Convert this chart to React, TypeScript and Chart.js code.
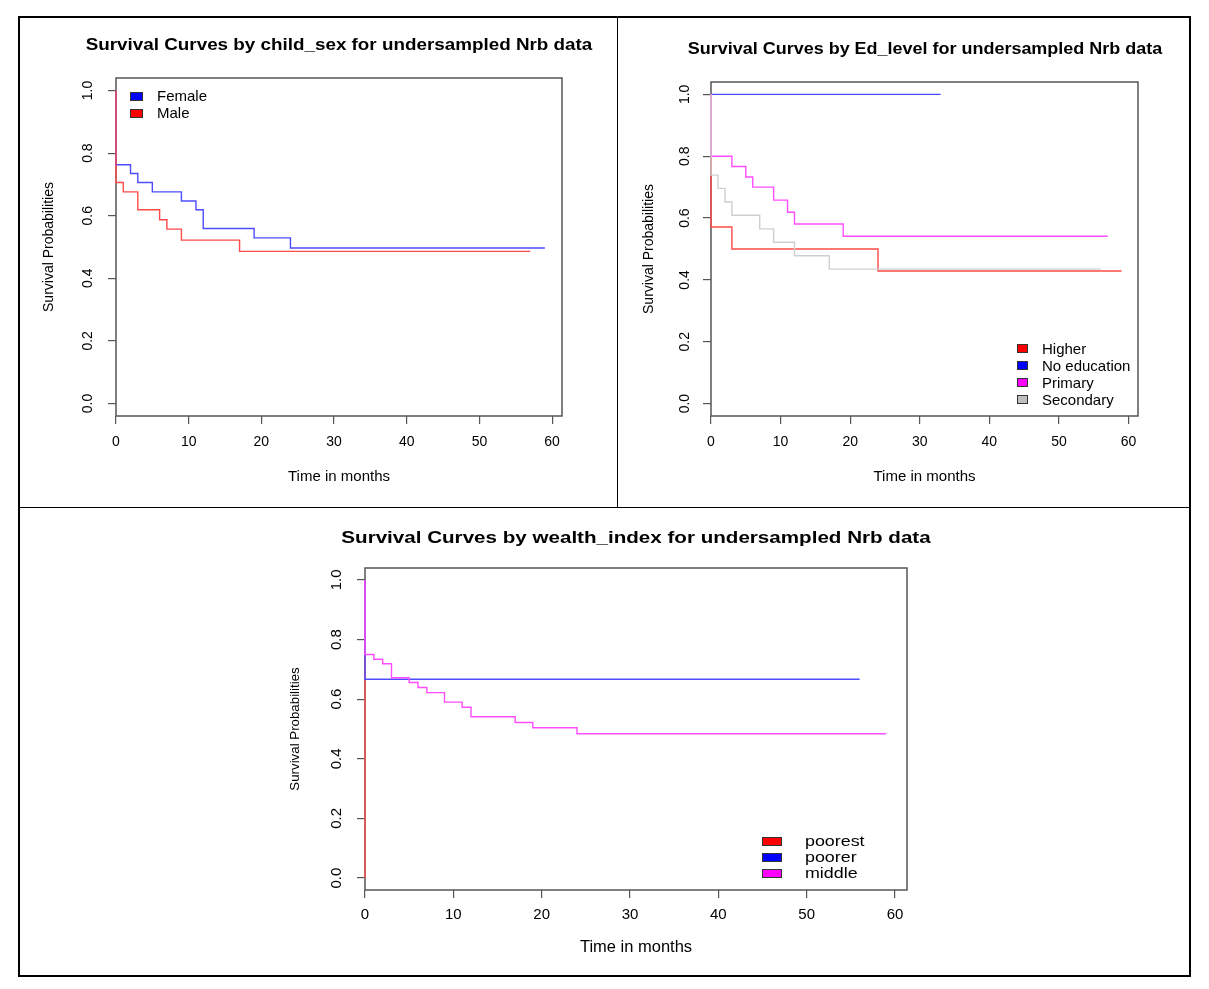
import React, { useEffect, useRef } from "react";
import { Chart, registerables } from "chart.js";

Chart.register(...registerables);

const FONT = "'Liberation Sans', Arial, Helvetica, sans-serif";

// ---------- Panel 1: child_sex ----------
const femaleTime = [0, 0, 2, 3, 5, 9, 11, 12, 19, 24, 59];
const femaleSurv = [1, 0.763, 0.735, 0.706, 0.676, 0.647, 0.619, 0.559, 0.529, 0.497, 0.497];
const maleTime = [0, 0, 1, 3, 6, 7, 9, 17, 57];
const maleSurv = [1, 0.706, 0.676, 0.619, 0.587, 0.557, 0.522, 0.486, 0.486];

// ---------- Panel 2: Ed_level ----------
const higherTime = [0, 0, 3, 24, 59];
const higherSurv = [1, 0.571, 0.5, 0.429, 0.429];
const noEduTime = [0, 33];
const noEduSurv = [1, 1];
const primaryTime = [0, 0, 3, 5, 6, 9, 11, 12, 19, 57];
const primarySurv = [1, 0.8, 0.767, 0.733, 0.7, 0.658, 0.619, 0.581, 0.541, 0.541];
const secondaryTime = [0, 0, 1, 2, 3, 7, 9, 12, 17, 56];
const secondarySurv = [1, 0.739, 0.696, 0.652, 0.609, 0.565, 0.522, 0.478, 0.435, 0.435];

// ---------- Panel 3: wealth_index ----------
const poorestTime = [0, 0];
const poorestSurv = [1, 0];
const poorerTime = [0, 0, 56];
const poorerSurv = [1, 0.667, 0.667];
const middleTime = [0, 0, 1, 2, 3, 5, 6, 7, 9, 11, 12, 17, 19, 24, 59];
const middleSurv = [1, 0.75, 0.734, 0.719, 0.672, 0.656, 0.639, 0.622, 0.59, 0.573, 0.541, 0.522, 0.504, 0.484, 0.484];

// ---------- Axes ----------
const xTicks = [0, 10, 20, 30, 40, 50, 60];
const xTickLabels = ["0", "10", "20", "30", "40", "50", "60"];
const yTicks = [0, 0.2, 0.4, 0.6, 0.8, 1.0];
const yTickLabels = ["0.0", "0.2", "0.4", "0.6", "0.8", "1.0"];
const xAxisMin = 0;
const xAxisMax = 61.36; // last time 59, extended 4% (R survfit style)
const yAxisMin = -0.04;
const yAxisMax = 1.04;

const titles = [
  "Survival Curves by child_sex for undersampled Nrb data",
  "Survival Curves by Ed_level for undersampled Nrb data",
  "Survival Curves by wealth_index for undersampled Nrb data",
];
const xAxisTitle = "Time in months";
const yAxisTitle = "Survival Probabilities";

type Series = { label: string; times: number[]; surv: number[]; line: string; fill: string };

type LegendSpec = { boxX: number; boxW: number; boxH: number; textX: number; rows: number[]; size: number; stretch: number };

type PanelSpec = {
  title: string;
  cx: number; cy: number; cw: number; ch: number;
  aL: number; aT: number; aR: number; aB: number;
  tY: number; yTX: number; xTY: number; yLX: number; xLY: number;
  titleSize: number; titleStretch: number;
  tickSize: number; xTitleSize: number; yTitleSize: number;
  series: Series[];
  legend: LegendSpec;
};

const RED_L = "#ff4a4a", BLUE_L = "#4d4dff", MAG_L = "#ff4dff", GRAY_L = "#cfcfcf";

const panels: PanelSpec[] = [
  {
    title: titles[0],
    cx: 20, cy: 18, cw: 597, ch: 489,
    aL: 116, aT: 78, aR: 562, aB: 416,
    tY: 44.5, yTX: 49.5, xTY: 476.5, yLX: 88, xLY: 442,
    titleSize: 16, titleStretch: 1.177,
    tickSize: 14, xTitleSize: 15, yTitleSize: 14,
    series: [
      { label: "Female", times: femaleTime, surv: femaleSurv, line: BLUE_L, fill: "#0000ff" },
      { label: "Male", times: maleTime, surv: maleSurv, line: RED_L, fill: "#ff0000" },
    ],
    legend: { boxX: 130, boxW: 13, boxH: 9, textX: 157, rows: [96, 113.3], size: 15, stretch: 1 },
  },
  {
    title: titles[1],
    cx: 618, cy: 18, cw: 572, ch: 489,
    aL: 711, aT: 82, aR: 1138, aB: 416,
    tY: 48.5, yTX: 649, xTY: 476.5, yLX: 685, xLY: 442,
    titleSize: 16, titleStretch: 1.123,
    tickSize: 14, xTitleSize: 15, yTitleSize: 14,
    series: [
      { label: "Higher", times: higherTime, surv: higherSurv, line: RED_L, fill: "#ff0000" },
      { label: "No education", times: noEduTime, surv: noEduSurv, line: BLUE_L, fill: "#0000ff" },
      { label: "Primary", times: primaryTime, surv: primarySurv, line: MAG_L, fill: "#ff00ff" },
      { label: "Secondary", times: secondaryTime, surv: secondarySurv, line: GRAY_L, fill: "#bebebe" },
    ],
    legend: { boxX: 1017, boxW: 11, boxH: 9, textX: 1042, rows: [348.5, 365.5, 382.5, 399.5], size: 15, stretch: 1 },
  },
  {
    title: titles[2],
    cx: 20, cy: 508, cw: 1170, ch: 468,
    aL: 365, aT: 568, aR: 907, aB: 890,
    tY: 536.5, yTX: 295, xTY: 947, yLX: 337, xLY: 915,
    titleSize: 16.5, titleStretch: 1.248,
    tickSize: 15, xTitleSize: 16.5, yTitleSize: 13.3,
    series: [
      { label: "poorest", times: poorestTime, surv: poorestSurv, line: RED_L, fill: "#ff0000" },
      { label: "poorer", times: poorerTime, surv: poorerSurv, line: BLUE_L, fill: "#0000ff" },
      { label: "middle", times: middleTime, surv: middleSurv, line: MAG_L, fill: "#ff00ff" },
    ],
    legend: { boxX: 762, boxW: 20, boxH: 9, textX: 805, rows: [841, 857, 873], size: 15, stretch: 1.19 },
  },
];

const framePlugin = {
  id: "rframe",
  beforeDatasetsDraw(chart: any) {
    const { ctx, chartArea } = chart;
    ctx.save();
    ctx.strokeStyle = "#555";
    ctx.lineWidth = 1.5;
    ctx.strokeRect(chartArea.left, chartArea.top, chartArea.right - chartArea.left, chartArea.bottom - chartArea.top);
    ctx.restore();
  },
};

function Panel({ spec }: { spec: PanelSpec }) {
  const ref = useRef<HTMLCanvasElement>(null);
  useEffect(() => {
    const s = spec;
    const tl = 8;
    const tickSize = s.tickSize;
    const yTitleSize = s.yTitleSize;
    const xTitleSize = s.xTitleSize;
    const yTitleLH = yTitleSize * 1.2;
    const xTitleLH = xTitleSize * 1.2;
    const tickLH = tickSize * 1.2;

    const mctx = document.createElement("canvas").getContext("2d")!;
    mctx.font = `${tickSize}px ${FONT}`;
    const widest = Math.max(...yTickLabels.map((l) => mctx.measureText(l).width));

    const padL = s.yTX - s.cx - yTitleLH / 2;
    const yW = s.aL - s.cx - padL;
    const padR = s.cx + s.cw - s.aR;
    const padT = s.aT - s.cy;
    const axisBottom = s.xTY - s.cy + xTitleLH / 2;
    const xH = axisBottom - (s.aB - s.cy);
    const padB = s.ch - axisBottom;
    const yPad = s.aL - s.yLX - tl - widest / 2;
    const xPad = s.xLY - s.aB - tl - tickLH / 2;

    const datasets = s.series
      .map((ser) => ({
        label: ser.label,
        data: ser.times.map((t, i) => ({ x: t, y: ser.surv[i] })),
        borderColor: ser.line,
        backgroundColor: ser.line,
        borderWidth: 1.4,
        pointRadius: 0,
        stepped: true as const,
        fill: false,
        tension: 0,
        clip: false as any,
      }))
      .reverse();

    const chart = new Chart(ref.current!, {
      type: "line",
      data: { datasets },
      plugins: [framePlugin],
      options: {
        animation: false,
        responsive: false,
        devicePixelRatio: window.devicePixelRatio || 1,
        events: [],
        layout: { padding: { left: padL, right: padR, top: padT, bottom: padB } },
        plugins: {
          legend: { display: false },
          tooltip: { enabled: false },
          title: { display: false },
        },
        scales: {
          x: {
            type: "linear",
            min: xAxisMin,
            max: xAxisMax,
            afterBuildTicks: (sc: any) => {
              sc.ticks = xTicks.map((v) => ({ value: v }));
            },
            afterFit: (sc: any) => {
              sc.height = xH;
              sc.paddingLeft = 0;
              sc.paddingRight = 0;
              sc.paddingTop = 0;
              sc.paddingBottom = 0;
            },
            grid: { display: true, drawOnChartArea: false, drawTicks: true, tickLength: tl, color: "#555", lineWidth: 1.2 },
            border: { display: false },
            ticks: {
              autoSkip: false,
              maxRotation: 0,
              minRotation: 0,
              padding: xPad,
              color: "#000",
              font: { family: FONT, size: tickSize },
              callback: (_v: any, i: number) => xTickLabels[i],
            },
            title: { display: true, text: xAxisTitle, color: "#000", font: { family: FONT, size: xTitleSize }, padding: 0 },
          },
          y: {
            type: "linear",
            min: yAxisMin,
            max: yAxisMax,
            afterBuildTicks: (sc: any) => {
              sc.ticks = yTicks.map((v) => ({ value: v }));
            },
            afterFit: (sc: any) => {
              sc.width = yW;
              sc.paddingLeft = 0;
              sc.paddingRight = 0;
              sc.paddingTop = 0;
              sc.paddingBottom = 0;
            },
            grid: { display: true, drawOnChartArea: false, drawTicks: true, tickLength: tl, color: "#555", lineWidth: 1.2 },
            border: { display: false },
            ticks: {
              autoSkip: false,
              minRotation: 90,
              maxRotation: 90,
              crossAlign: "center",
              padding: yPad,
              color: "#000",
              font: { family: FONT, size: tickSize },
              callback: (_v: any, i: number) => yTickLabels[i],
            },
            title: { display: true, text: yAxisTitle, color: "#000", font: { family: FONT, size: yTitleSize }, padding: 0 },
          },
        },
      } as any,
    });
    return () => chart.destroy();
  }, [spec]);

  const lg = spec.legend;
  const centerX = (spec.aL + spec.aR) / 2;
  return (
    <>
      <canvas
        ref={ref}
        width={spec.cw}
        height={spec.ch}
        style={{ position: "absolute", left: spec.cx, top: spec.cy, width: spec.cw, height: spec.ch }}
      />
      <div
        style={{
          position: "absolute",
          left: centerX,
          top: spec.tY,
          transform: `translate(-50%, -50%) scaleX(${spec.titleStretch})`,
          fontFamily: FONT,
          fontWeight: "bold",
          fontSize: spec.titleSize,
          lineHeight: "22px",
          color: "#000",
          whiteSpace: "nowrap",
        }}
      >
        {spec.title}
      </div>
      {spec.series.map((ser, i) => (
        <React.Fragment key={ser.label}>
          <div
            style={{
              position: "absolute",
              left: lg.boxX,
              top: lg.rows[i] - lg.boxH / 2,
              width: lg.boxW,
              height: lg.boxH,
              boxSizing: "border-box",
              background: ser.fill,
              border: "1px solid #333",
            }}
          />
          <div
            style={{
              position: "absolute",
              left: lg.textX,
              top: lg.rows[i] - 10,
              height: 20,
              lineHeight: "20px",
              fontSize: lg.size,
              fontFamily: FONT,
              color: "#000",
              whiteSpace: "nowrap",
              transform: `scaleX(${lg.stretch})`,
              transformOrigin: "0 50%",
            }}
          >
            {ser.label}
          </div>
        </React.Fragment>
      ))}
    </>
  );
}

export default function App() {
  const line = (l: number, t: number, w: number, h: number) => (
    <div style={{ position: "absolute", left: l, top: t, width: w, height: h, background: "#000" }} />
  );
  return (
    <div style={{ position: "absolute", left: 0, top: 0, width: 1209, height: 989, background: "#fff", overflow: "hidden" }}>
      {panels.map((p, i) => (
        <Panel key={i} spec={p} />
      ))}
      {line(18, 16, 1173, 1.6)}
      {line(18, 975.4, 1173, 1.6)}
      {line(18, 16, 1.6, 961)}
      {line(1189.4, 16, 1.6, 961)}
      {line(616.6, 16, 1.6, 492)}
      {line(18, 506.6, 1173, 1.6)}
    </div>
  );
}
